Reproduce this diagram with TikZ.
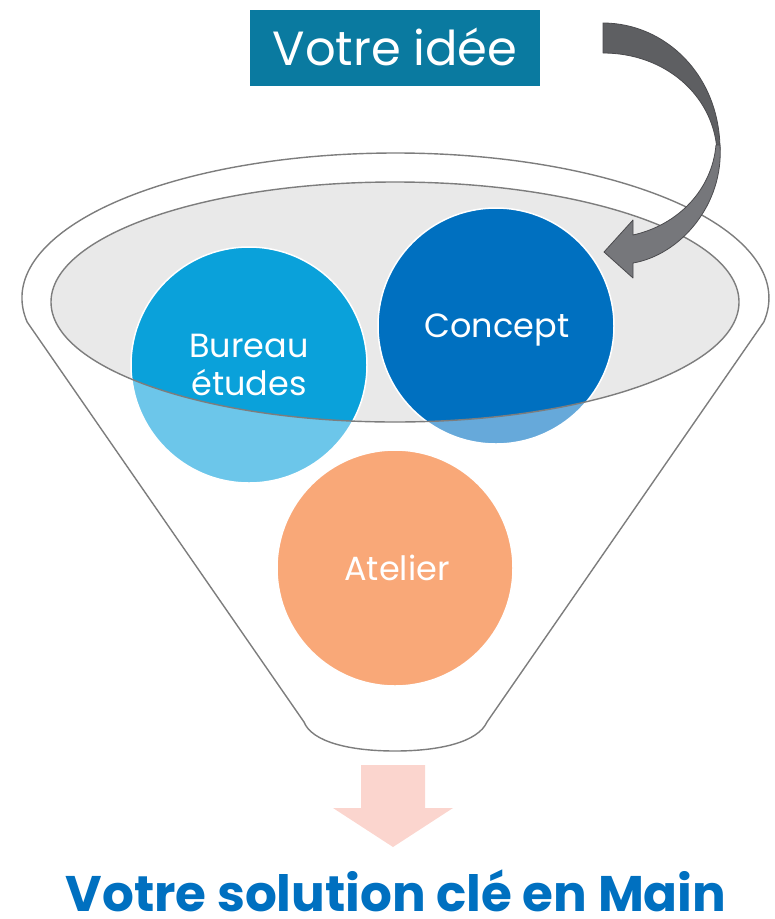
\documentclass[tikz,border=0pt]{standalone}
\usepackage{fontspec}
\setmainfont{Poppins}
\definecolor{rimgrey}{RGB}{125,125,125}
\definecolor{innergrey}{RGB}{233,233,233}
\definecolor{titleteal}{RGB}{10,122,160}
\definecolor{bureauS}{RGB}{10,161,218}
\definecolor{bureauL}{RGB}{108,198,234}
\definecolor{conceptS}{RGB}{0,112,192}
\definecolor{conceptL}{RGB}{102,169,218}
\definecolor{atelierC}{RGB}{249,168,120}
\definecolor{arrowdark}{RGB}{94,95,98}
\definecolor{arrowlight}{RGB}{118,119,123}
\definecolor{arrowline}{RGB}{75,75,78}
\definecolor{pinkarrow}{RGB}{251,213,206}
\definecolor{solblue}{RGB}{0,112,192}
\begin{document}
\begin{tikzpicture}[x=1pt,y=-1pt,
  rim/.style={draw=rimgrey, line width=1.4pt},
  ball/.style={circle, minimum size=236pt, inner sep=0pt},
  balltext/.style={text=white, font=\fontsize{33.5}{38}\selectfont, align=center, inner sep=0pt},
  bentarrow/.style={draw=arrowline, line width=0.8pt, line join=round}]
\useasboundingbox (0,0) rectangle (775,919);
% funnel outline
\draw[rim, fill=white] (304,722) -- (27.15,322)
  arc[start angle=170.47, end angle=369.53, x radius=373.5, y radius=145]
  -- (487,722) .. controls (478,742) and (440,751) .. (395,751)
  .. controls (350,751) and (312,742) .. (304,722) -- cycle;
% inner ellipse fill
\fill[innergrey] (395,302) ellipse[x radius=344, y radius=120];
% circles (light part, outside the mouth)
\node[ball, fill=bureauL] (bureau) at (249,365) {};
\node[ball, fill=conceptL] (concept) at (496,326) {};
\node[ball, fill=atelierC] (atelier) at (395,568) {};
% saturated part inside the mouth
\begin{scope}
  \clip (395,302) ellipse[x radius=344, y radius=120];
  \fill[bureauS] (249,365) circle[radius=118];
  \fill[conceptS] (496,326) circle[radius=118];
\end{scope}
\draw[white, line width=1.5pt] (249,365) circle[radius=118];
\draw[white, line width=1.5pt] (496,326) circle[radius=118];
\draw[white, line width=1.5pt] (395,568) circle[radius=118];
% mouth outline
\draw[rim] (395,302) ellipse[x radius=344, y radius=120];
% circle labels
\node[balltext] (bureautext) at (249,365) {Bureau\\études};
\node[balltext, anchor=base] (concepttext) at (497,337) {Concept};
\node[balltext, anchor=base] (ateliertext) at (397,580) {Atelier};
% title
\node[fill=titleteal, minimum width=290pt, minimum height=76pt, inner sep=0pt]
  (idee) at (395,48) {};
\node[text=white, font=\fontsize{48}{48}\selectfont, anchor=base, inner sep=0pt]
  (ideetext) at (idee.center |- 0,65) {Votre idée};
% curved grey arrow
\path[bentarrow, fill=arrowdark] (603,23) .. controls (665,23) and (720,75) .. (720,150)
  -- (717,150) .. controls (713,95) and (665,53) .. (603,53) -- cycle;
\path[bentarrow, fill=arrowlight] (720,145) .. controls (724,205) and (680,255) .. (633,263)
  -- (633,278) -- (604,252) -- (633,220) -- (633,235)
  .. controls (678,225) and (712,190) .. (716,145) -- cycle;
% pink arrow
\fill[pinkarrow] (361,765) -- (425,765) -- (425,808) -- (453,808) -- (393,847)
  -- (333,808) -- (361,808) -- cycle;
% result
\node[text=solblue, font=\bfseries\fontsize{50}{50}\selectfont, anchor=base, inner sep=0pt]
  (solution) at (396,911) {Votre solution clé en Main};
\end{tikzpicture}
\end{document}
